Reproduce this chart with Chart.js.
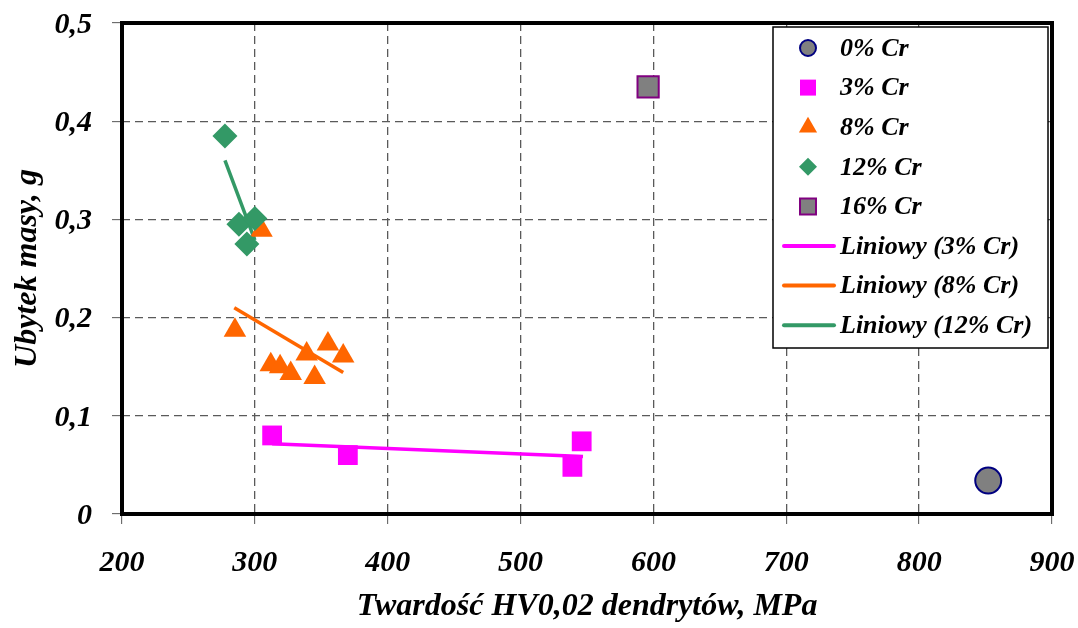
<!DOCTYPE html>
<html>
<head>
<meta charset="utf-8">
<script src="https://cdn.jsdelivr.net/npm/chart.js@4/dist/chart.umd.min.js"></script>
<style>
html,body{margin:0;padding:0;background:#fff;}
#wrap{width:1078px;height:628px;}
</style>
</head>
<body>
<div id="wrap"><canvas id="c" width="1078" height="628"></canvas></div>
<script>
// ---- data ----
const hv0 = [852];            const ub0 = [0.034];
const hv3 = [313, 370, 539, 546];  const ub3 = [0.080, 0.060, 0.048, 0.074];
const hv8 = [285, 312, 319, 327, 339, 345, 355, 366.5, 305];
const ub8 = [0.187, 0.152, 0.150, 0.143, 0.163, 0.139, 0.173, 0.161, 0.289];
const hv12 = [277.5, 288, 300, 294]; const ub12 = [0.385, 0.295, 0.301, 0.275];
const hv16 = [596];           const ub16 = [0.435];
// trend line end points (as drawn)
const trend3x = [313, 547];   const trend3y = [0.0715, 0.0585];
const trend8x = [284.5, 366.5]; const trend8y = [0.210, 0.144];
const trend12x = [277.5, 300]; const trend12y = [0.360, 0.279];
const xTicks = [200, 300, 400, 500, 600, 700, 800, 900];
const yTicks = [0, 0.1, 0.2, 0.3, 0.4, 0.5];
const seriesLabels = ['0% Cr', '3% Cr', '8% Cr', '12% Cr', '16% Cr', 'Liniowy (3% Cr)', 'Liniowy (8% Cr)', 'Liniowy (12% Cr)'];
const xTitle = 'Twardość HV0,02 dendrytów, MPa';
const yTitle = 'Ubytek masy, g';

const pts = (xs, ys) => xs.map((x, i) => ({x: x, y: ys[i]}));
const FONT = '"Liberation Serif", "Times New Roman", serif';

const datasets = [
  {label: seriesLabels[0], data: pts(hv0, ub0), type: 'scatter', pointStyle: 'circle', pointRadius: 13,
   backgroundColor: '#808080', borderColor: '#000080', pointBorderWidth: 2, order: 1, legendR: 8},
  {label: seriesLabels[1], data: pts(hv3, ub3), type: 'scatter', pointStyle: 'rect', pointRadius: 14,
   backgroundColor: '#FF00FF', borderColor: '#FF00FF', pointBorderWidth: 0, order: 4, legendR: 11.3},
  {label: seriesLabels[2], data: pts(hv8, ub8), type: 'scatter', pointStyle: 'triangle', pointRadius: 13,
   backgroundColor: '#FF6600', borderColor: '#FF6600', pointBorderWidth: 0, order: 3, legendR: 10.5},
  {label: seriesLabels[3], data: pts(hv12, ub12), type: 'scatter', pointStyle: 'rectRot', pointRadius: 12.5,
   backgroundColor: '#339966', borderColor: '#339966', pointBorderWidth: 0, order: 2, legendR: 9},
  {label: seriesLabels[4], data: pts(hv16, ub16), type: 'scatter', pointStyle: 'rect', pointRadius: 15,
   backgroundColor: '#808080', borderColor: '#800080', pointBorderWidth: 2, order: 1, legendR: 11.3},
  {label: seriesLabels[5], data: pts(trend3x, trend3y), type: 'line', showLine: true, pointRadius: 0,
   borderColor: '#FF00FF', borderWidth: 3.5, fill: false, order: 10},
  {label: seriesLabels[6], data: pts(trend8x, trend8y), type: 'line', showLine: true, pointRadius: 0,
   borderColor: '#FF6600', borderWidth: 3.5, fill: false, order: 10},
  {label: seriesLabels[7], data: pts(trend12x, trend12y), type: 'line', showLine: true, pointRadius: 0,
   borderColor: '#339966', borderWidth: 3.5, fill: false, order: 10}
];

const framePlugin = {
  id: 'frame',
  beforeDatasetsDraw(chart) {
    const {ctx, chartArea: a} = chart;
    ctx.save();
    ctx.strokeStyle = '#000';
    ctx.lineWidth = 4;
    ctx.strokeRect(a.left, a.top, a.right - a.left, a.bottom - a.top);
    ctx.restore();
  }
};

const legendPlugin = {
  id: 'customLegend',
  afterDraw(chart) {
    const ctx = chart.ctx;
    const box = {x: 773, y: 27, w: 275, h: 321};
    ctx.save();
    ctx.fillStyle = '#fff';
    ctx.fillRect(box.x, box.y, box.w, box.h);
    ctx.strokeStyle = '#000';
    ctx.lineWidth = 1.5;
    ctx.strokeRect(box.x, box.y, box.w, box.h);
    const rowY0 = 48, rowStep = 39.6, markX = 808, textX = 840;
    chart.data.datasets.forEach((ds, i) => {
      const y = rowY0 + i * rowStep;
      if (ds.type === 'line') {
        ctx.strokeStyle = ds.borderColor;
        ctx.lineWidth = 4;
        ctx.lineCap = 'round';
        ctx.beginPath();
        ctx.moveTo(784, y);
        ctx.lineTo(834, y);
        ctx.stroke();
      } else {
        ctx.fillStyle = ds.backgroundColor;
        ctx.strokeStyle = ds.borderColor;
        ctx.lineWidth = ds.pointBorderWidth;
        Chart.helpers.drawPoint(ctx, {pointStyle: ds.pointStyle, rotation: 0, radius: ds.legendR, borderWidth: ds.pointBorderWidth}, markX, y);
      }
      ctx.fillStyle = '#000';
      ctx.font = 'italic bold 26px ' + FONT;
      ctx.textAlign = 'left';
      ctx.textBaseline = 'middle';
      ctx.fillText(ds.label, textX, y + 1);
    });
    ctx.restore();
  }
};

const fmt = v => String(Math.round(v * 10) / 10).replace('.', ',');

new Chart(document.getElementById('c'), {
  type: 'scatter',
  data: {datasets: datasets},
  plugins: [framePlugin, legendPlugin],
  options: {
    responsive: false,
    animation: false,
    devicePixelRatio: 1,
    layout: {padding: {left: 0, top: 23, right: 26, bottom: 0}},
    plugins: {legend: {display: false}, tooltip: {enabled: false}},
    scales: {
      x: {
        type: 'linear', min: 200, max: 900,
        afterBuildTicks: s => { s.ticks = xTicks.map(v => ({value: v})); },
        afterFit: s => { s.height = 114; s.paddingLeft = 0; s.paddingRight = 0; },
        border: {display: false, dash: [8, 5]},
        grid: {color: '#5a5a5a', lineWidth: 1.3, tickLength: 10,
               tickColor: '#555', tickWidth: 1, tickBorderDash: []},
        ticks: {color: '#000', padding: 21, font: {family: FONT, size: 30, style: 'italic', weight: 'bold'},
                maxRotation: 0, autoSkip: false},
        title: {display: true, text: xTitle, color: '#000', padding: {top: 0, bottom: 2},
                font: {family: FONT, size: 32, style: 'italic', weight: 'bold'}}
      },
      y: {
        type: 'linear', min: 0, max: 0.5,
        afterBuildTicks: s => { s.ticks = yTicks.map(v => ({value: v})); },
        afterFit: s => { s.width = 122; s.paddingTop = 0; s.paddingBottom = 0; },
        border: {display: false, dash: [8, 5]},
        grid: {color: '#5a5a5a', lineWidth: 1.3, tickLength: 10,
               tickColor: '#555', tickWidth: 1, tickBorderDash: []},
        ticks: {color: '#000', padding: 20, labelOffset: 2, font: {family: FONT, size: 30, style: 'italic', weight: 'bold'},
                callback: v => fmt(v)},
        title: {display: true, text: yTitle, color: '#000', padding: {top: 9, bottom: 0},
                font: {family: FONT, size: 32, style: 'italic', weight: 'bold'}}
      }
    }
  }
});
</script>
</body>
</html>
